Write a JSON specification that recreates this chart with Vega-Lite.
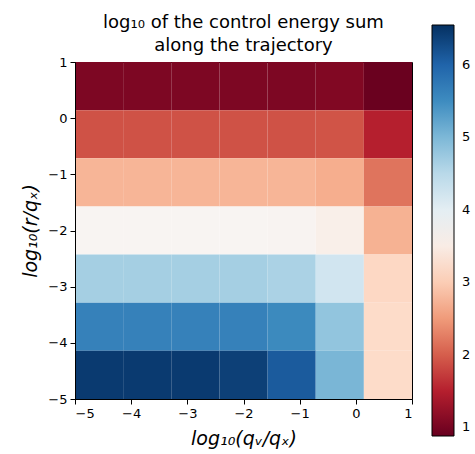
{
  "$schema": "https://vega.github.io/schema/vega-lite/v6.json",
  "width": 337,
  "height": 337,
  "autosize": {"type": "none"},
  "padding": {"left": 75, "top": 62, "right": 63, "bottom": 55},
  "background": "white",
  "config": {
    "view": {"stroke": "black", "strokeWidth": 1},
    "font": "DejaVu Sans"
  },
  "title": {
    "text": ["log₁₀ of the control energy sum", "along the trajectory"],
    "fontSize": 18,
    "fontWeight": "normal",
    "font": "DejaVu Sans",
    "color": "black",
    "anchor": "middle",
    "offset": -30,
    "lineHeight": 23
  },
  "data": {
    "values": [
      {"qv_lo": -5, "qv_hi": -4.143, "r_lo": 0.143, "r_hi": 1, "value": 1.05},
      {"qv_lo": -4.143, "qv_hi": -3.286, "r_lo": 0.143, "r_hi": 1, "value": 1.05},
      {"qv_lo": -3.286, "qv_hi": -2.429, "r_lo": 0.143, "r_hi": 1, "value": 1.05},
      {"qv_lo": -2.429, "qv_hi": -1.571, "r_lo": 0.143, "r_hi": 1, "value": 1.05},
      {"qv_lo": -1.571, "qv_hi": -0.714, "r_lo": 0.143, "r_hi": 1, "value": 1.05},
      {"qv_lo": -0.714, "qv_hi": 0.143, "r_lo": 0.143, "r_hi": 1, "value": 1.08},
      {"qv_lo": 0.143, "qv_hi": 1, "r_lo": 0.143, "r_hi": 1, "value": 0.9},

      {"qv_lo": -5, "qv_hi": -4.143, "r_lo": -0.714, "r_hi": 0.143, "value": 1.9},
      {"qv_lo": -4.143, "qv_hi": -3.286, "r_lo": -0.714, "r_hi": 0.143, "value": 1.9},
      {"qv_lo": -3.286, "qv_hi": -2.429, "r_lo": -0.714, "r_hi": 0.143, "value": 1.9},
      {"qv_lo": -2.429, "qv_hi": -1.571, "r_lo": -0.714, "r_hi": 0.143, "value": 1.9},
      {"qv_lo": -1.571, "qv_hi": -0.714, "r_lo": -0.714, "r_hi": 0.143, "value": 1.9},
      {"qv_lo": -0.714, "qv_hi": 0.143, "r_lo": -0.714, "r_hi": 0.143, "value": 1.92},
      {"qv_lo": 0.143, "qv_hi": 1, "r_lo": -0.714, "r_hi": 0.143, "value": 1.5},

      {"qv_lo": -5, "qv_hi": -4.143, "r_lo": -1.571, "r_hi": -0.714, "value": 2.75},
      {"qv_lo": -4.143, "qv_hi": -3.286, "r_lo": -1.571, "r_hi": -0.714, "value": 2.75},
      {"qv_lo": -3.286, "qv_hi": -2.429, "r_lo": -1.571, "r_hi": -0.714, "value": 2.75},
      {"qv_lo": -2.429, "qv_hi": -1.571, "r_lo": -1.571, "r_hi": -0.714, "value": 2.75},
      {"qv_lo": -1.571, "qv_hi": -0.714, "r_lo": -1.571, "r_hi": -0.714, "value": 2.75},
      {"qv_lo": -0.714, "qv_hi": 0.143, "r_lo": -1.571, "r_hi": -0.714, "value": 2.68},
      {"qv_lo": 0.143, "qv_hi": 1, "r_lo": -1.571, "r_hi": -0.714, "value": 2.18},

      {"qv_lo": -5, "qv_hi": -4.143, "r_lo": -2.429, "r_hi": -1.571, "value": 3.66},
      {"qv_lo": -4.143, "qv_hi": -3.286, "r_lo": -2.429, "r_hi": -1.571, "value": 3.66},
      {"qv_lo": -3.286, "qv_hi": -2.429, "r_lo": -2.429, "r_hi": -1.571, "value": 3.66},
      {"qv_lo": -2.429, "qv_hi": -1.571, "r_lo": -2.429, "r_hi": -1.571, "value": 3.66},
      {"qv_lo": -1.571, "qv_hi": -0.714, "r_lo": -2.429, "r_hi": -1.571, "value": 3.64},
      {"qv_lo": -0.714, "qv_hi": 0.143, "r_lo": -2.429, "r_hi": -1.571, "value": 3.55},
      {"qv_lo": 0.143, "qv_hi": 1, "r_lo": -2.429, "r_hi": -1.571, "value": 2.72},

      {"qv_lo": -5, "qv_hi": -4.143, "r_lo": -3.286, "r_hi": -2.429, "value": 4.68},
      {"qv_lo": -4.143, "qv_hi": -3.286, "r_lo": -3.286, "r_hi": -2.429, "value": 4.68},
      {"qv_lo": -3.286, "qv_hi": -2.429, "r_lo": -3.286, "r_hi": -2.429, "value": 4.68},
      {"qv_lo": -2.429, "qv_hi": -1.571, "r_lo": -3.286, "r_hi": -2.429, "value": 4.68},
      {"qv_lo": -1.571, "qv_hi": -0.714, "r_lo": -3.286, "r_hi": -2.429, "value": 4.62},
      {"qv_lo": -0.714, "qv_hi": 0.143, "r_lo": -3.286, "r_hi": -2.429, "value": 4.28},
      {"qv_lo": 0.143, "qv_hi": 1, "r_lo": -3.286, "r_hi": -2.429, "value": 3.12},

      {"qv_lo": -5, "qv_hi": -4.143, "r_lo": -4.143, "r_hi": -3.286, "value": 5.64},
      {"qv_lo": -4.143, "qv_hi": -3.286, "r_lo": -4.143, "r_hi": -3.286, "value": 5.64},
      {"qv_lo": -3.286, "qv_hi": -2.429, "r_lo": -4.143, "r_hi": -3.286, "value": 5.64},
      {"qv_lo": -2.429, "qv_hi": -1.571, "r_lo": -4.143, "r_hi": -3.286, "value": 5.64},
      {"qv_lo": -1.571, "qv_hi": -0.714, "r_lo": -4.143, "r_hi": -3.286, "value": 5.53},
      {"qv_lo": -0.714, "qv_hi": 0.143, "r_lo": -4.143, "r_hi": -3.286, "value": 4.85},
      {"qv_lo": 0.143, "qv_hi": 1, "r_lo": -4.143, "r_hi": -3.286, "value": 3.17},

      {"qv_lo": -5, "qv_hi": -4.143, "r_lo": -5, "r_hi": -4.143, "value": 6.44},
      {"qv_lo": -4.143, "qv_hi": -3.286, "r_lo": -5, "r_hi": -4.143, "value": 6.44},
      {"qv_lo": -3.286, "qv_hi": -2.429, "r_lo": -5, "r_hi": -4.143, "value": 6.44},
      {"qv_lo": -2.429, "qv_hi": -1.571, "r_lo": -5, "r_hi": -4.143, "value": 6.38},
      {"qv_lo": -1.571, "qv_hi": -0.714, "r_lo": -5, "r_hi": -4.143, "value": 6.1},
      {"qv_lo": -0.714, "qv_hi": 0.143, "r_lo": -5, "r_hi": -4.143, "value": 5.02},
      {"qv_lo": 0.143, "qv_hi": 1, "r_lo": -5, "r_hi": -4.143, "value": 3.17}
    ]
  },
  "mark": {"type": "rect", "strokeWidth": 0, "opacity": 1, "fillOpacity": 1},
  "encoding": {
    "x": {
      "field": "qv_lo",
      "type": "quantitative",
      "scale": {"domain": [-5, 1], "nice": false, "zero": false},
      "axis": {
        "title": "log₁₀(qᵥ/qₓ)",
        "values": [-5, -4, -3, -2, -1, 0, 1],
        "grid": false,
        "domainColor": "black",
        "tickColor": "black",
        "tickSize": 5,
        "labelColor": "black",
        "labelFontSize": 13,
        "labelPadding": 3,
        "labelFont": "DejaVu Sans",
        "titleFont": "DejaVu Sans",
        "titleFontSize": 19,
        "titleFontWeight": "normal",
        "titleFontStyle": "italic",
        "titleColor": "black",
        "titlePadding": 9,
        "zindex": 1
      }
    },
    "x2": {"field": "qv_hi"},
    "y": {
      "field": "r_lo",
      "type": "quantitative",
      "scale": {"domain": [-5, 1], "nice": false, "zero": false},
      "axis": {
        "title": "log₁₀(r/qₓ)",
        "values": [-5, -4, -3, -2, -1, 0, 1],
        "grid": false,
        "domainColor": "black",
        "tickColor": "black",
        "tickSize": 5,
        "labelColor": "black",
        "labelFontSize": 13,
        "labelPadding": 3,
        "labelFont": "DejaVu Sans",
        "titleFont": "DejaVu Sans",
        "titleFontSize": 19,
        "titleFontWeight": "normal",
        "titleFontStyle": "italic",
        "titleColor": "black",
        "titlePadding": 7,
        "zindex": 1
      }
    },
    "y2": {"field": "r_hi"},
    "color": {
      "field": "value",
      "type": "quantitative",
      "scale": {
        "domain": [0.88, 1.447, 2.014, 2.581, 3.148, 3.715, 4.282, 4.849, 5.416, 5.983, 6.55],
        "range": ["#67001f", "#b2182b", "#d6604d", "#f4a582", "#fddbc7", "#f7f7f7", "#d1e5f0", "#92c5de", "#4393c3", "#2166ac", "#053061"],
        "interpolate": "rgb",
        "nice": false,
        "zero": false
      },
      "legend": {
        "title": null,
        "orient": "none",
        "legendX": 357,
        "legendY": -37,
        "direction": "vertical",
        "gradientLength": 411,
        "gradientThickness": 22,
        "gradientStrokeColor": "black",
        "gradientStrokeWidth": 1,
        "values": [1, 2, 3, 4, 5, 6],
        "labelOverlap": false,
        "labelFontSize": 13,
        "labelFont": "DejaVu Sans",
        "labelColor": "black",
        "labelOffset": 8,
        "padding": 0
      }
    }
  }
}
